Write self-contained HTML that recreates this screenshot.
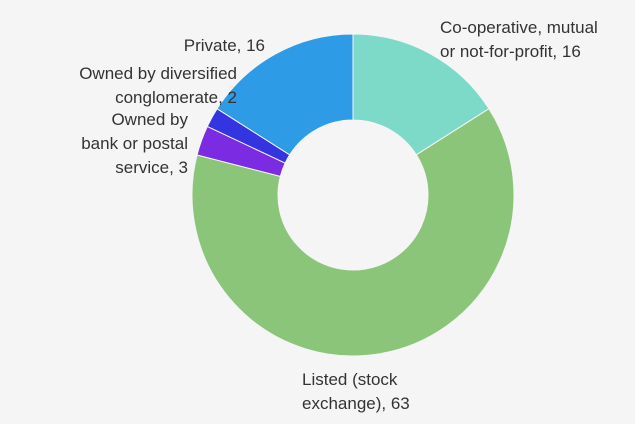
<!DOCTYPE html>
<html><head><meta charset="utf-8"><style>
html,body{margin:0;padding:0;background:#f5f5f5;}
svg{display:block;font-family:"Liberation Sans",sans-serif;}
</style></head><body>
<svg id="chart" width="635" height="424" viewBox="0 0 635 424">
<rect width="635" height="424" fill="#f5f5f5"/>
<g id="slices"></g><g id="labels"></g>
</svg>
<script>
const categories = ["Co-operative, mutual|or not-for-profit", "Listed (stock|exchange)", "Owned by|bank or postal|service", "Owned by diversified|conglomerate", "Private"];
const values = [16, 63, 3, 2, 16];
const colors = ["#7dd9c8", "#8bc57a", "#7b2be2", "#3434e0", "#2e9be6"];
const cx = 353, cy = 195, R = 161, r = 75;
const labelPos = [[440,27,"start"],[302,379,"start"],[188,119,"end"],[237,73,"end"],[265,45,"end"]];
const ns = "http://www.w3.org/2000/svg";
const total = values.reduce((a,b)=>a+b,0);
function pt(rad, a){return [cx+rad*Math.sin(a), cy-rad*Math.cos(a)];}
let acc = 0;
const sg = document.getElementById('slices'), lg = document.getElementById('labels');
values.forEach((v,i)=>{
  const a0 = acc/total*2*Math.PI, a1 = (acc+v)/total*2*Math.PI; acc += v;
  const large = (a1-a0) > Math.PI ? 1 : 0;
  const [x0,y0]=pt(R,a0),[x1,y1]=pt(R,a1),[x2,y2]=pt(r,a1),[x3,y3]=pt(r,a0);
  const p = document.createElementNS(ns,'path');
  p.setAttribute('d',`M${x0},${y0}A${R},${R} 0 ${large} 1 ${x1},${y1}L${x2},${y2}A${r},${r} 0 ${large} 0 ${x3},${y3}Z`);
  p.setAttribute('fill',colors[i]); p.setAttribute('stroke','#f5f5f5'); p.setAttribute('stroke-width','1');
  
  
  sg.appendChild(p);
  const lines = categories[i].split('|');
  lines[lines.length-1] += ', ' + v;
  const t = document.createElementNS(ns,'text');
  
  
  t.setAttribute('font-size','17'); t.setAttribute('fill','#333'); t.setAttribute('text-anchor',labelPos[i][2]);
  lines.forEach((l,j)=>{
    const ts = document.createElementNS(ns,'tspan');
    ts.setAttribute('x',labelPos[i][0]); ts.setAttribute('y',labelPos[i][1]+24*j+6);
    ts.textContent = l; t.appendChild(ts);
  });
  lg.appendChild(t);
});
</script>
</body></html>
